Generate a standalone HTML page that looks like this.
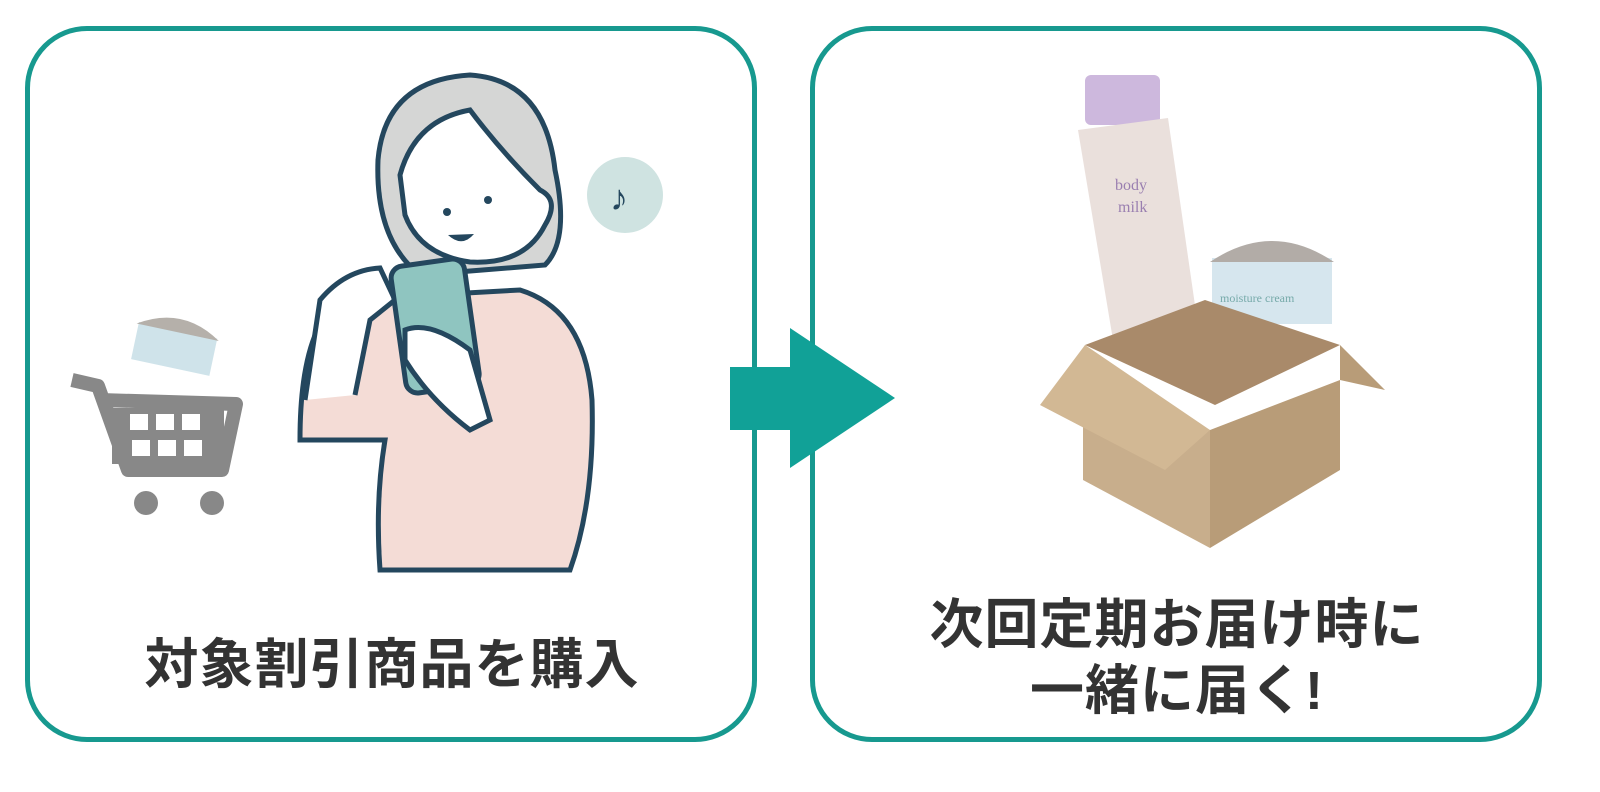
<!DOCTYPE html>
<html><head><meta charset="utf-8"><style>
html,body{margin:0;padding:0;background:#fff;}
body{width:1600px;height:792px;position:relative;overflow:hidden;font-family:"Liberation Sans","Noto Sans CJK JP",sans-serif;}
.box{position:absolute;border:5px solid #17998f;border-radius:62px;box-sizing:border-box;}
.t{position:absolute;font-weight:bold;color:#333;font-size:54px;text-align:center;font-family:"Liberation Sans","Noto Sans CJK JP",sans-serif;letter-spacing:1px;}
</style></head><body>
<div class="box" style="left:25px;top:26px;width:732px;height:716px;"></div>
<div class="box" style="left:810px;top:26px;width:732px;height:716px;"></div>
<svg width="1600" height="792" style="position:absolute;left:0;top:0">
<rect x="730" y="367" width="64" height="63" fill="#11a197"/>
<polygon points="790,328 895,398 790,468" fill="#11a197"/>
<!-- cart -->
<g fill="#888">
<path d="M72,380 L98,386 L128,470 L222,470 L236,404 L100,400" fill="none" stroke="#888" stroke-width="14" stroke-linejoin="round"/>
<rect x="112" y="408" width="112" height="56"/>
<circle cx="146" cy="503" r="12"/><circle cx="212" cy="503" r="12"/>
</g>
<g fill="#fff"><rect x="130" y="414" width="18" height="16"/><rect x="156" y="414" width="18" height="16"/><rect x="182" y="414" width="18" height="16"/>
<rect x="132" y="440" width="18" height="16"/><rect x="158" y="440" width="18" height="16"/><rect x="184" y="440" width="18" height="16"/></g>
<g transform="rotate(12 175 345)"><rect x="135" y="330" width="80" height="38" fill="#cfe3ea"/><path d="M133,332 Q175,305 217,332 Z" fill="#b5b0aa"/></g>
<!-- woman -->
<path d="M378,160 Q385,80 470,75 Q545,80 555,170 Q570,240 545,265 L420,275 Q375,240 378,160Z" fill="#d5d6d5" stroke="#24475e" stroke-width="5"/>
<path d="M400,175 Q415,120 470,110 Q500,150 540,190 Q560,200 545,225 Q525,265 470,262 Q420,255 405,215Z" fill="#fff" stroke="#24475e" stroke-width="5"/>
<circle cx="447" cy="212" r="4" fill="#24475e"/><circle cx="488" cy="200" r="4" fill="#24475e"/>
<path d="M448,235 Q462,248 474,234 Z" fill="#24475e"/>
<path d="M300,440 Q300,330 340,300 L520,290 Q585,310 592,400 Q595,500 570,570 L380,570 Q375,500 385,440 Z" fill="#f4dcd6" stroke="#24475e" stroke-width="5"/>
<path d="M305,400 L320,300 Q345,270 380,268 L395,300 L370,320 L355,395" fill="#fff" stroke="#24475e" stroke-width="5"/>
<g transform="rotate(-8 435 325)"><rect x="398" y="262" width="74" height="128" rx="12" fill="#8fc5c0" stroke="#24475e" stroke-width="5"/></g>
<path d="M405,330 Q430,320 470,350 L490,420 L470,430 Q430,400 405,360Z" fill="#fff" stroke="#24475e" stroke-width="5"/>
<circle cx="625" cy="195" r="38" fill="#cfe3e1"/>
<text x="610" y="210" font-size="36" fill="#24475e">♪</text>
<!-- body milk -->
<rect x="1085" y="75" width="75" height="50" rx="6" fill="#cdb8dd"/>
<polygon points="1078,130 1168,118 1200,340 1115,352" fill="#eae0dc"/>
<text x="1115" y="190" font-size="16" fill="#9a7fb0" font-family="Liberation Serif,serif">body</text>
<text x="1118" y="212" font-size="16" fill="#9a7fb0" font-family="Liberation Serif,serif">milk</text>
<rect x="1212" y="258" width="120" height="66" fill="#d6e6ee"/>
<path d="M1210,262 Q1272,220 1334,262 Z" fill="#b2aca7"/>
<text x="1220" y="302" font-size="12" fill="#7aa" font-family="Liberation Serif,serif">moisture cream</text>
<!-- box -->
<polygon points="1085,345 1205,300 1340,345 1215,405" fill="#a98a6a"/>
<polygon points="1083,395 1210,430 1210,548 1083,480" fill="#c8ae8c"/>
<polygon points="1210,430 1340,380 1340,470 1210,548" fill="#b89c78"/>
<polygon points="1085,345 1040,405 1165,470 1210,430" fill="#d2b894"/>
<polygon points="1340,345 1385,390 1340,380" fill="#b89c78"/>
</svg>
<div class="t" style="left:27px;width:730px;top:620px;">対象割引商品を購入</div>
<div class="t" style="left:812px;width:730px;top:592px;line-height:66px;">次回定期お届け時に<br>一緒に届く!</div>
</body></html>
